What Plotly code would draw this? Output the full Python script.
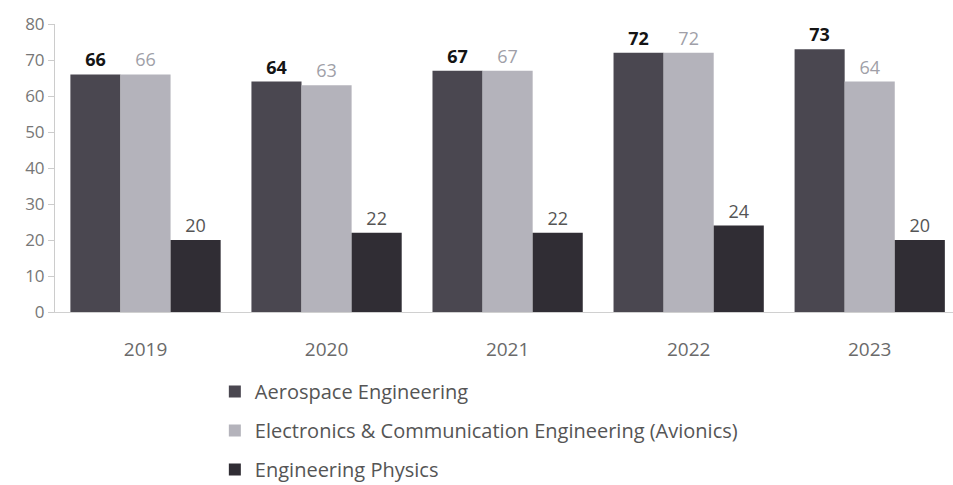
import plotly.graph_objects as go

years = ["2019", "2020", "2021", "2022", "2023"]
aerospace = [66, 64, 67, 72, 73]
electronics = [66, 63, 67, 72, 64]
physics = [20, 22, 22, 24, 20]
series_names = ["Aerospace Engineering",
                "Electronics & Communication Engineering (Avionics)",
                "Engineering Physics"]

colors = ["#4a4750", "#b4b3bb", "#302d34"]
label_colors = ["#141414", "#a09fa8", "#555555"]
label_weights = ["bold", "normal", "normal"]

fig = go.Figure()
for i, (name, vals) in enumerate(zip(series_names, [aerospace, electronics, physics])):
    fig.add_trace(go.Bar(
        x=years, y=vals, name=name, legendgroup=f"g{i}",
        marker=dict(color=colors[i], line=dict(width=0)),
        text=[str(v) for v in vals], textposition="outside",
        textfont=dict(family="Open Sans", size=18, color=label_colors[i], weight=label_weights[i]),
        cliponaxis=False,
    ))

fig.update_layout(
    width=953, height=485,
    margin=dict(l=55, r=0, t=24, b=173, autoexpand=False),
    paper_bgcolor="white", plot_bgcolor="white",
    barmode="group", bargap=0.17, bargroupgap=0.0,
    font=dict(family="Open Sans", color="#666666"),
    showlegend=True,
    legend=dict(orientation="v", x=0.178, xanchor="left",
                yref="container", y=0.233, yanchor="top",
                traceorder="grouped", tracegroupgap=10,
                font=dict(family="Open Sans", size=20, color="#555555"),
                itemwidth=30),
    xaxis=dict(range=[-0.5, 4.46], showline=True, linecolor="#d0d0d0", linewidth=1, ticks="",
               tickfont=dict(size=19, color="#6a6a6a"), ticklabelstandoff=20,
               showgrid=False, automargin=False),
    yaxis=dict(range=[0, 80], dtick=10, showline=True, linecolor="#cccccc", linewidth=1,
               ticks="outside", ticklen=6, tickcolor="#cccccc",
               tickfont=dict(size=17, color="#777777"), showgrid=False, zeroline=False,
               automargin=False),
)

fig.write_html("out.html")
